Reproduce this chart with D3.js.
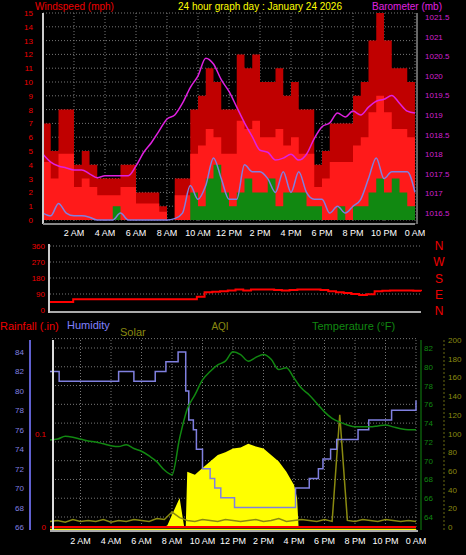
<!DOCTYPE html>
<html><head><meta charset="utf-8">
<script src="https://cdn.jsdelivr.net/npm/d3@7"></script>
<style>body{margin:0;background:#000}svg{display:block;font-family:"Liberation Sans",Arial,sans-serif}</style>
</head><body>
<script>
// half-hour samples 0..24h
var hours = d3.range(0, 24.01, 0.5);
var gust = [7,5,8,8,4,5,4,3,3,3,4,4,2,2,2,1,0,3,3,8,9,11,10,8,8,12,11,12,10,10,11,9,10,8,8,4,5,7,7,7,9,10,13,15,13,11,11,10,6];
var windAvg = [0.5,0.3,1.2,0.5,0.3,0.3,0.2,0,0,0,0.5,0,0,0,0,0,0,0.1,0.5,2.5,1.5,2.5,4.5,3,1.5,1.5,4,3.5,3.5,3,2,3.5,2,3.5,2,1.5,1.5,0.5,1,0.5,1,1.5,3,4.5,3,3.5,3.5,3.5,2];
var windSpd = [0,0,0,0,0,0,0,0,0,1,0,0,0,0,0,0,0,0,0,2,1,3,4,2,1,2,3,2,2,3,1,2,2,2,1,1,0,0,1,0,1,1,2,3,2,3,2,1,1];
var baro = [1018.0,1017.8,1017.7,1017.65,1017.6,1017.6,1017.5,1017.4,1017.45,1017.45,1017.45,1017.45,1017.7,1018.05,1018.3,1018.6,1018.9,1019.0,1019.3,1019.7,1020.0,1020.45,1020.3,1019.9,1019.6,1019.2,1018.8,1018.45,1018.1,1018.05,1017.85,1017.9,1018.0,1017.85,1018.0,1018.4,1018.7,1018.8,1019.05,1018.95,1019.1,1019.0,1019.2,1019.35,1019.4,1019.5,1019.3,1019.1,1019.05];
var windDir = [45,45,45,60,60,60,60,60,60,60,60,60,60,60,60,60,60,60,60,75,100,102,105,110,115,110,115,115,115,112,110,112,115,115,115,112,105,100,95,90,85,88,105,108,110,110,110,108,105];
var humTimes = [0,0.2,0.6,4.5,5.5,6.9,7.6,8.4,8.7,8.9,9.1,9.4,9.6,10.0,10.5,10.8,11.2,12.1,16.1,16.3,17.0,17.6,17.9,18.4,18.8,20.2,20.9,22.4,24];
var humVals = [82,82,81,82,81,82,83,84,84,80,77,76,74,72,71,70,69,68,70,70,71,72,73,74,75,76,77,78,79];
var tempVals = [72.2,72.3,72.6,72.5,72.3,72.1,72,71.8,71.6,71.5,71.7,71.3,71,70.5,69.9,69,68.5,72.4,75.5,77,78.6,79.5,80.2,80.6,81.6,81.3,80.6,81,81.3,80.8,79.7,79.9,78.8,77.7,77,76.1,75.2,74.5,74.1,73.8,73.6,73.6,73.6,73.7,73.8,73.6,73.4,73.3,73.3];
var solarTimes = [0,7.5,7.7,8.0,8.5,8.8,8.9,9.0,9.5,10,10.5,11,11.5,12,12.5,13,13.5,14,14.5,15,15.5,16,16.2,16.3,24];
var solarVals = [0,0,2,13,31,0,0,59,56,63,70,77,80,84,85,89,86,84,77,70,59,45,31,0,0];
var aqi = [6,7,5,8,6,7,6,8,5,7,6,8,7,6,9,8,16,10,7,6,8,7,6,8,7,6,7,8,6,7,9,6,7,8,7,6,8,6,120,7,6,8,7,6,8,7,6,7,6];
var timeLabels = ['2 AM','4 AM','6 AM','8 AM','10 AM','12 PM','2 PM','4 PM','6 PM','8 PM','10 PM','0 AM'];
var compass = ['N','W','S','E','N'];

var svg = d3.select('body').append('svg').attr('width', 466).attr('height', 555);

function grid(g, x, y, yTicks, x0, x1, y0, y1, vert) {
  g.selectAll('.hg').data(yTicks).join('line').attr('class', 'hg')
    .attr('x1', x0).attr('x2', x1).attr('y1', d => y(d)).attr('y2', d => y(d))
    .attr('stroke', '#777').attr('stroke-dasharray', '1,2');
  if (vert === false) return;
  g.selectAll('.vg').data(d3.range(2, 25, 2)).join('line').attr('class', 'vg')
    .attr('x1', d => x(d)).attr('x2', d => x(d)).attr('y1', y0).attr('y2', y1)
    .attr('stroke', '#777').attr('stroke-dasharray', '1,2');
}
function timeAxis(x, yy) {
  svg.append('g').selectAll('text').data(timeLabels).join('text')
    .attr('x', (d, i) => x((i + 1) * 2)).attr('y', yy).attr('text-anchor', 'middle')
    .attr('fill', '#fff').attr('font-size', 9).text(d => d);
}
function label(t, x, y, c, size, anchor) {
  svg.append('text').attr('x', x).attr('y', y).attr('fill', c).attr('font-size', size || 11)
    .attr('text-anchor', anchor || 'start').text(t);
}
function axisText(g, cls, vals, y, xx, anchor, color) {
  g.selectAll('.' + cls).data(vals).join('text').attr('class', cls)
    .attr('x', xx).attr('y', d => y(d) + 3).attr('text-anchor', anchor)
    .attr('fill', color).attr('font-size', 8).text(d => d);
}

// ---------- top: wind + barometer
var x1 = d3.scaleLinear().domain([0, 24]).range([43, 415]);
var yW = d3.scaleLinear().domain([0, 15]).range([220, 13]);
var yB = d3.scaleLinear().domain([1016.5, 1021.5]).range([213, 17]);
var topG = svg.append('g');
grid(topG, x1, yW, d3.range(0, 16), 43, 415, 13, 224);
var stepArea = (g, vals, x, y, fill) => g.append('path').datum(hours.map((h, i) => [h, vals[i]]))
  .attr('d', d3.area().curve(d3.curveStepAfter).x(d => x(d[0])).y0(y(0)).y1(d => y(d[1])))
  .attr('fill', fill);
stepArea(topG, gust, x1, yW, '#c00000');
stepArea(topG, gust.map(v => v * 0.6), x1, yW, '#ff1a1a');
stepArea(topG, windSpd, x1, yW, '#118811');
topG.append('path').datum(hours.map((h, i) => [h, windAvg[i]]))
  .attr('d', d3.line().curve(d3.curveMonotoneX).x(d => x1(d[0])).y(d => yW(d[1])))
  .attr('fill', 'none').attr('stroke', '#8080e0').attr('stroke-width', 1.5);
topG.append('path').datum(hours.map((h, i) => [h, baro[i]]))
  .attr('d', d3.line().curve(d3.curveMonotoneX).x(d => x1(d[0])).y(d => yB(d[1])))
  .attr('fill', 'none').attr('stroke', '#e020e0').attr('stroke-width', 1.5);
topG.append('line').attr('x1', 43).attr('x2', 43).attr('y1', 13).attr('y2', 224).attr('stroke', '#ccc').attr('stroke-width', 2);
topG.append('line').attr('x1', 43).attr('x2', 415).attr('y1', 224).attr('y2', 224).attr('stroke', '#888').attr('stroke-width', 2);
topG.append('line').attr('x1', 417).attr('x2', 417).attr('y1', 13).attr('y2', 224).attr('stroke', '#ccc');
axisText(topG, 'wl', d3.range(0, 16), yW, 33, 'end', '#e00');
axisText(topG, 'bl', d3.range(1016.5, 1021.6, 0.5), yB, 425, 'start', '#d020d0');
timeAxis(x1, 236);
label('Windspeed (mph)', 35, 10, '#e00', 10);
label('24 hour graph day : January 24 2026', 260, 10, '#ff0', 10, 'middle');
label('Barometer (mb)', 372, 10, '#e020e0', 10);

// ---------- wind direction
var x2 = d3.scaleLinear().domain([0, 24]).range([50, 421]);
var yD = d3.scaleLinear().domain([0, 360]).range([310, 246]);
var midG = svg.append('g');
grid(midG, x2, yD, [90, 180, 270, 360], 50, 421, 246, 246, false);
midG.append('line').attr('x1', 50).attr('x2', 421).attr('y1', 312).attr('y2', 312).attr('stroke', '#aaa').attr('stroke-width', 2);
midG.append('line').attr('x1', 49).attr('x2', 49).attr('y1', 244).attr('y2', 313).attr('stroke', '#ccc').attr('stroke-width', 2);
midG.append('path').datum(hours.map((h, i) => [h, windDir[i]]))
  .attr('d', d3.line().curve(d3.curveStepAfter).x(d => x2(d[0])).y(d => yD(d[1])))
  .attr('fill', 'none').attr('stroke', '#f00').attr('stroke-width', 2);
axisText(midG, 'dl', [0, 90, 180, 270, 360], yD, 45, 'end', '#e00');
midG.selectAll('.cl').data(compass).join('text').attr('class', 'cl').attr('x', 439).attr('y', (d, i) => 250 + i * 16.3)
  .attr('text-anchor', 'middle').attr('fill', '#e00').attr('font-size', 12).text(d => d);

// ---------- bottom: humidity, temperature, solar
var x3 = d3.scaleLinear().domain([0, 24]).range([50, 416]);
var yH = d3.scaleLinear().domain([66, 84]).range([527, 352]);
var yT = d3.scaleLinear().domain([64, 82]).range([517, 348]);
var yS = d3.scaleLinear().domain([0, 200]).range([527, 340]);
var yR = d3.scaleLinear().domain([0, 0.2]).range([527, 340]);
var botG = svg.append('g');
grid(botG, x3, yT, d3.range(64, 84, 2).concat([83]), 52, 416, 340, 530);
botG.append('path').datum(solarTimes.map((t, i) => [t, solarVals[i]]))
  .attr('d', d3.area().x(d => x3(d[0])).y0(yS(0)).y1(d => yS(d[1])))
  .attr('fill', '#ffff00');
botG.append('path').datum(hours.map((h, i) => [h, aqi[i]]))
  .attr('d', d3.line().x(d => x3(d[0])).y(d => yS(d[1])))
  .attr('fill', 'none').attr('stroke', '#8a8a10').attr('stroke-width', 1.5);
botG.append('line').attr('x1', x3(0)).attr('x2', x3(24)).attr('y1', yR(0)).attr('y2', yR(0)).attr('stroke', '#f00').attr('stroke-width', 2);
botG.append('line').attr('x1', x3(0)).attr('x2', x3(24)).attr('y1', yR(0) + 2.5).attr('y2', yR(0) + 2.5).attr('stroke', '#ff0').attr('stroke-width', 1.5);
botG.append('path').datum(humTimes.map((t, i) => [t, humVals[i]]))
  .attr('d', d3.line().curve(d3.curveStepAfter).x(d => x3(d[0])).y(d => yH(d[1])))
  .attr('fill', 'none').attr('stroke', '#8080e0').attr('stroke-width', 1.5);
botG.append('path').datum(hours.map((h, i) => [h, tempVals[i]]))
  .attr('d', d3.line().curve(d3.curveMonotoneX).x(d => x3(d[0])).y(d => yT(d[1])))
  .attr('fill', 'none').attr('stroke', '#118811').attr('stroke-width', 1.5);
botG.append('line').attr('x1', 53).attr('x2', 53).attr('y1', 340).attr('y2', 531).attr('stroke', '#ddd').attr('stroke-width', 2);
botG.append('line').attr('x1', 50).attr('x2', 418).attr('y1', 531).attr('y2', 531).attr('stroke', '#aaa').attr('stroke-width', 2);
botG.append('line').attr('x1', 30).attr('x2', 30).attr('y1', 340).attr('y2', 530).attr('stroke', '#6060d0').attr('stroke-width', 2);
botG.append('line').attr('x1', 421).attr('x2', 421).attr('y1', 340).attr('y2', 530).attr('stroke', '#118811');
botG.append('line').attr('x1', 444).attr('x2', 444).attr('y1', 340).attr('y2', 530).attr('stroke', '#6a6a10').attr('stroke-dasharray', '2,2');
axisText(botG, 'hl', d3.range(66, 85, 2), yH, 24, 'end', '#8080e0');
axisText(botG, 'rl', [0, 0.1], yR, 46, 'end', '#e00');
axisText(botG, 'tl', d3.range(64, 83, 2), yT, 424, 'start', '#118811');
axisText(botG, 'sl', d3.range(0, 201, 20), yS, 448, 'start', '#8a8a10');
timeAxis(x3, 544);
label('Rainfall (.in)', 0, 330, '#e00');
label('Humidity', 67, 329, '#8080ff');
label('Solar', 120, 336, '#8a8a10');
label('AQI', 220, 330, '#8a8a10', 10, 'middle');
label('Temperature (°F)', 312, 330, '#118811');
</script>
</body></html>
